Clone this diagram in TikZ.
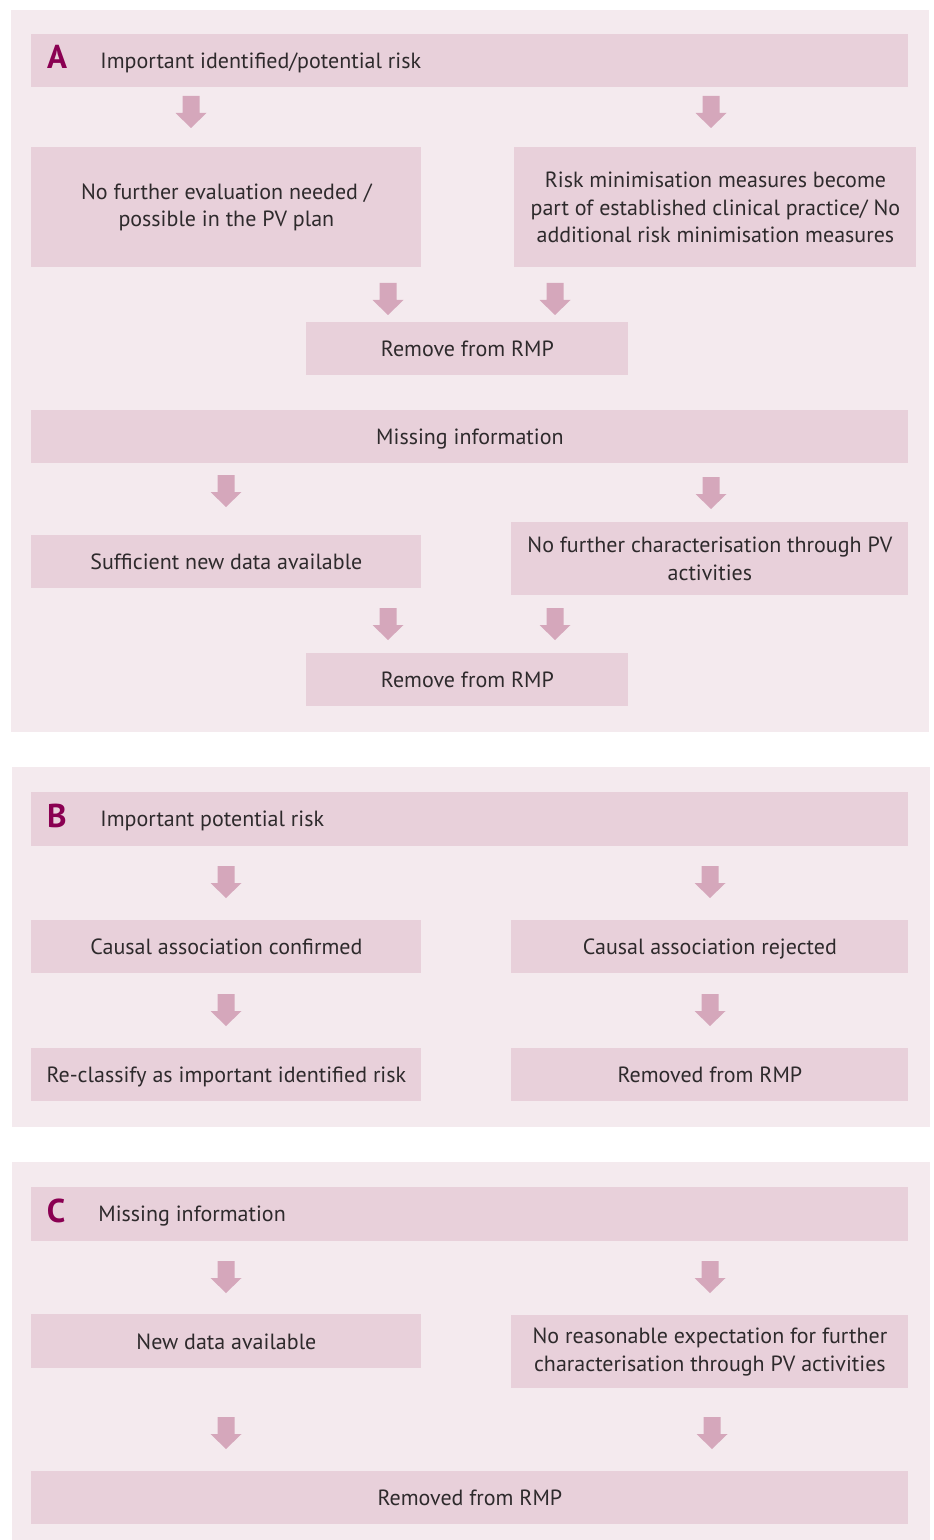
\documentclass[tikz,border=0pt]{standalone}
\usepackage{fontspec}
\setmainfont{PT Sans}
\usetikzlibrary{positioning}
\definecolor{panelbg}{HTML}{F4EAEE}
\definecolor{boxc}{HTML}{E8D0DA}
\definecolor{dartc}{HTML}{D5A7BB}
\definecolor{letterc}{HTML}{8A0052}
\definecolor{textc}{HTML}{2E2A2C}

\begin{document}
\begin{tikzpicture}[x=0.5pt,y=-0.5pt,
    panel/.style={fill=panelbg},
    box/.style={fill=boxc,text=textc,align=center,inner sep=0pt,anchor=north west,
                font=\fontsize{11}{13.75}\selectfont},
    one/.style={text height=7.9pt,text depth=0pt},
    wide/.style={box,one,minimum width=438.5pt,minimum height=26.5pt},
    half/.style={box,one,minimum width=195pt,minimum height=26.5pt},
    side/.style={box,one,minimum width=198.5pt,minimum height=26.5pt},
    mid/.style={box,one,minimum width=161pt,minimum height=26.5pt},
    letter/.style={text=letterc,inner sep=0pt,text height=11pt,text depth=0pt,
                   font=\fontsize{16.5}{16.5}\bfseries\selectfont},
    headtxt/.style={text=textc,inner sep=0pt,anchor=west,one,
                    font=\fontsize{11}{13.75}\selectfont},
    dart/.pic={\fill[dartc] (-8.5,0) -- (8.5,0) -- (8.5,17) -- (15.5,17) -- (0,32)
                -- (-15.5,17) -- (-8.5,17) -- cycle;}]

  \useasboundingbox[fill=white] (0,0) rectangle (933,1540);

  % panel A
  \fill[panel] (11,10) rectangle (929,732);
  \node[wide] (hdA) at (31,34) {};
  \node[letter] (lA) at (57,58) {A};
  \node[headtxt] (tA) at (100,61) {Important identified/potential risk};
  \pic at (191,96) {dart};
  \pic at (711,96) {dart};
  \node[box,minimum width=195pt,minimum height=60pt] (noeval) at (31,147)
    {No further evaluation needed /\\possible in the PV plan};
  \node[box,minimum width=201pt,minimum height=60pt] (minim) at (514,147)
    {Risk minimisation measures become\\part of established clinical practice/ No\\additional risk minimisation measures};
  \pic at (388,283) {dart};
  \pic at (555,283) {dart};
  \node[mid] (rmA1) at (306,322) {Remove from RMP};
  \node[wide] (missA) at (31,410) {Missing information};
  \pic at (226,475) {dart};
  \pic at (711,477) {dart};
  \node[half] (suff) at (31,535) {Sufficient new data available};
  \node[box,minimum width=198.5pt,minimum height=36.5pt] (nochar) at (511,522)
    {No further characterisation through PV\\activities};
  \pic at (388,608) {dart};
  \pic at (555,608) {dart};
  \node[mid] (rmA2) at (306,653) {Remove from RMP};

  % panel B
  \fill[panel] (12,767) rectangle (930,1127);
  \node[wide,minimum height=27pt] (hdB) at (31,792) {};
  \node[letter] (lB) at (57,816) {B};
  \node[headtxt] (tB) at (100,819) {Important potential risk};
  \pic at (226,866) {dart};
  \pic at (710,866) {dart};
  \node[half] (conf) at (31,920) {Causal association confirmed};
  \node[side] (rej) at (511,920) {Causal association rejected};
  \pic at (226,994) {dart};
  \pic at (710,994) {dart};
  \node[half] (recl) at (31,1048) {Re-classify as important identified risk};
  \node[side] (rmB) at (511,1048) {Removed from RMP};

  % panel C
  \fill[panel] (12,1162) rectangle (930,1540);
  \node[wide,minimum height=27pt] (hdC) at (31,1187) {};
  \node[letter] (lC) at (56,1211) {C};
  \node[headtxt] (tC) at (98,1214) {Missing information};
  \pic at (226,1261) {dart};
  \pic at (710,1261) {dart};
  \node[half,minimum height=27pt] (newd) at (31,1314) {New data available};
  \node[box,minimum width=198.5pt,minimum height=36.5pt] (noexp) at (511,1315)
    {No reasonable expectation for further\\characterisation through PV activities};
  \pic at (226,1417) {dart};
  \pic at (712,1417) {dart};
  \node[wide] (rmC) at (31,1471) {Removed from RMP};
\end{tikzpicture}
\end{document}
